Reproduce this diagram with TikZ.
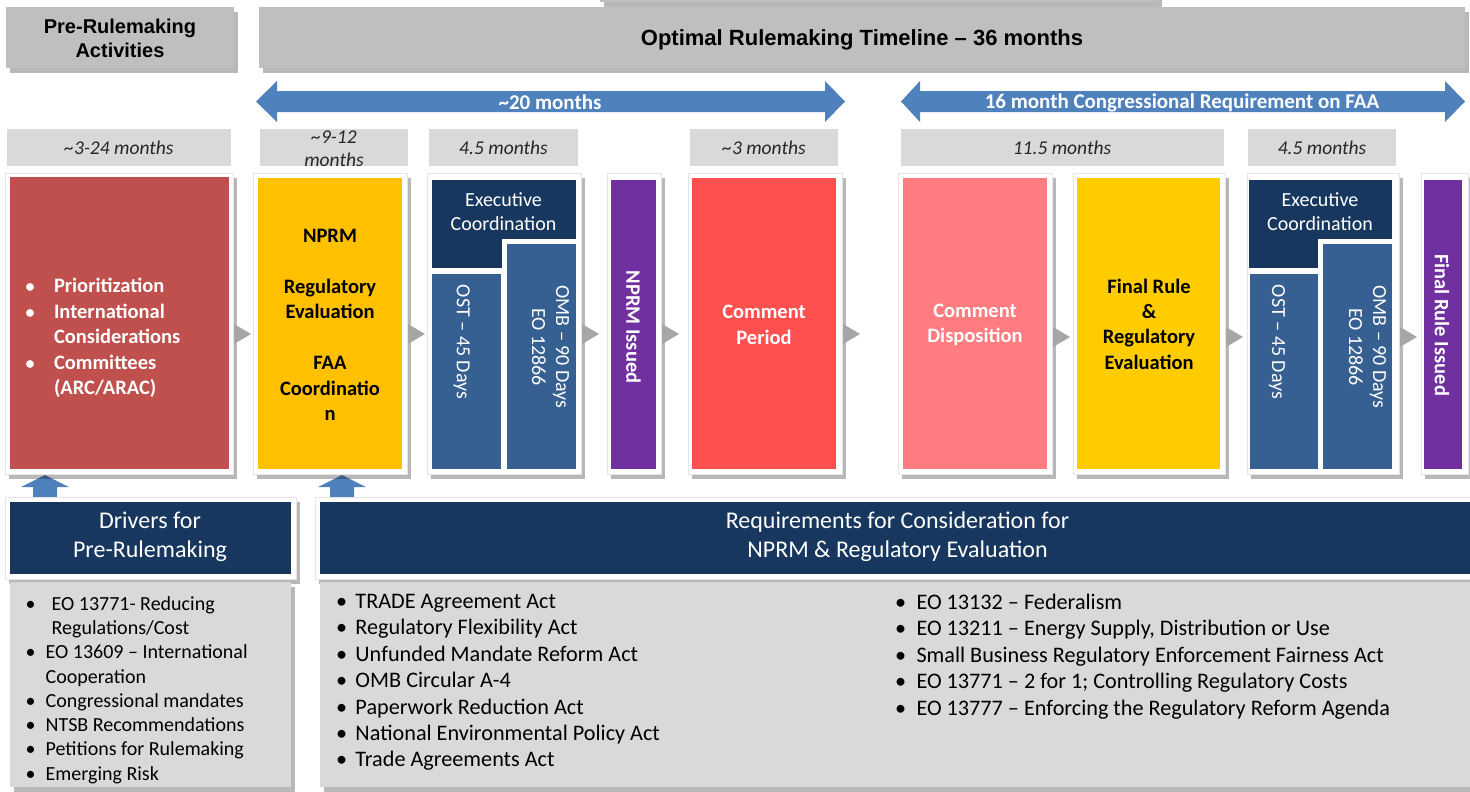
\documentclass[tikz,border=0pt]{standalone}
\usepackage{fontspec}
\setmainfont{Carlito}
\newfontfamily\arialf{Liberation Sans}
\usetikzlibrary{shadows,calc}
\definecolor{hdrgray}{HTML}{BFBFBF}
\definecolor{lgray}{HTML}{D9D9D9}
\definecolor{trigray}{HTML}{A6A6A6}
\definecolor{redbox}{HTML}{C0504D}
\definecolor{yel1}{HTML}{FFC000}
\definecolor{yel2}{HTML}{FFCC00}
\definecolor{navy}{HTML}{17375E}
\definecolor{midblue}{HTML}{376092}
\definecolor{purp}{HTML}{7030A0}
\definecolor{cper}{HTML}{FF5050}
\definecolor{cdis}{HTML}{FF7C80}
\definecolor{arrblue}{HTML}{4F81BD}
\tikzset{
  myshadow/.style={drop shadow={shadow xshift=4pt, shadow yshift=-5pt, opacity=0.28, fill=black}},
  hdrbox/.style={fill=hdrgray, myshadow},
  monbox/.style={fill=lgray},
  framebox/.style={fill=white, draw=black!10, line width=0.6pt, myshadow},
  listbox/.style={fill=lgray, myshadow},
  trif/.style={fill=trigray},
  hdrtext/.style={font=\arialf\fontsize{20}{24}\selectfont\bfseries, align=center, text=black},
  titletext/.style={font=\arialf\fontsize{22}{26}\selectfont\bfseries, align=center, text=black},
  montext/.style={font=\fontsize{19.5}{23.5}\selectfont\itshape, align=center, text=black!85},
  arrtext/.style={font=\fontsize{21}{24}\selectfont\bfseries, text=white},
  bw/.style={font=\fontsize{20.5}{25.4}\selectfont\bfseries, align=center, text=white},
  bk/.style={font=\fontsize{20.5}{25.4}\selectfont\bfseries, align=center, text=black},
  rw/.style={font=\fontsize{20}{24}\selectfont, align=center, text=white},
  headw/.style={font=\fontsize{24}{29}\selectfont, align=center, text=white},
  listL/.style={font=\fontsize{20}{24.3}\selectfont, align=left, text=black},
  listR/.style={font=\fontsize{22.2}{26.4}\selectfont, align=left, text=black},
}
\newcommand\rbox[6]{\node[#6, anchor=north west, minimum width={#4-#2}, minimum height={#5-#3}] (#1) at (#2,#3) {};}
\newcommand\conn[2]{\fill[trif] ($(#1.east |- 0,#2)+(1,0)$) ++(0,-10) -- ++(17,10) -- ++(-17,10) -- cycle;}
\begin{document}
\begin{tikzpicture}[x=1pt,y=-1pt, every node/.style={inner sep=0pt, outer sep=0pt}]
\useasboundingbox (0,0) rectangle (1470,792);
\fill[white] (0,0) rectangle (1470,792);

% top headers
\rbox{hTop}{600}{-30}{1158}{2}{hdrbox}
\rbox{hPre}{6}{7}{234}{68}{hdrbox}
\rbox{hOpt}{259}{7}{1465}{68}{hdrbox}
\node[hdrtext] (tPre) at (120,38) {Pre-Rulemaking\\Activities};
\node[titletext] (tOpt) at (862,40) {Optimal Rulemaking Timeline – 36 months};

% blue double arrows
\fill[arrblue] (256,101.5) -- (277,81) -- (277,91) -- (825,91) -- (825,81) -- (845,101.5) -- (825,122) -- (825,112) -- (277,112) -- (277,122) -- cycle;
\fill[arrblue] (901,101.5) -- (920,81) -- (920,91) -- (1445,91) -- (1445,81) -- (1465,101.5) -- (1445,122) -- (1445,112) -- (920,112) -- (920,122) -- cycle;
\node[arrtext] (a1) at (550,102.5) {\textasciitilde 20 months};
\node[arrtext] (a2) at (1182,102.5) {16 month Congressional Requirement on FAA};

% month labels
\rbox{m1}{7}{129}{231}{166}{monbox}
\rbox{m2}{260}{129}{408}{166}{monbox}
\rbox{m3}{429}{129}{578}{166}{monbox}
\rbox{m4}{690}{129}{838}{166}{monbox}
\rbox{m5}{901}{129}{1224}{166}{monbox}
\rbox{m6}{1248}{129}{1396}{166}{monbox}
\node[montext] (mt1) at (119,148) {\textasciitilde 3-24 months};
\node[montext] (mt2) at (334,148.5) {\textasciitilde 9-12\\months};
\node[montext] (mt3) at (503.5,148) {4.5 months};
\node[montext] (mt4) at (764,148) {\textasciitilde 3 months};
\node[montext] (mt5) at (1062,148) {11.5 months};
\node[montext] (mt6) at (1322,148) {4.5 months};

% up arrows
\fill[arrblue] (45,475) -- (69,487) -- (57,487) -- (57,498) -- (33,498) -- (33,487) -- (21,487) -- cycle;
\fill[arrblue] (342,475) -- (366,487) -- (354,487) -- (354,498) -- (330,498) -- (330,487) -- (318,487) -- cycle;

% frames
\rbox{fA}{5}{173}{233}{474}{framebox}
\rbox{fB}{253}{173}{407}{474}{framebox}
\rbox{fC}{427}{173}{581}{474}{framebox}
\rbox{fD}{607}{173}{661}{474}{framebox}
\rbox{fE}{688}{173}{842}{474}{framebox}
\rbox{fF}{898}{173}{1052}{474}{framebox}
\rbox{fG}{1073}{173}{1225}{474}{framebox}
\rbox{fH}{1247}{173}{1399}{474}{framebox}
\rbox{fI}{1421}{173}{1468}{474}{framebox}

% inner boxes
\rbox{bA}{10}{177}{229}{469}{fill=redbox}
\rbox{bB}{258}{178}{402}{469}{fill=yel1}
\rbox{cNav}{432}{180}{576}{268}{fill=navy}
\rbox{cOst}{432}{274}{501}{469}{fill=midblue}
\rbox{cWh}{502}{239}{576}{469}{fill=white}
\rbox{cOmb}{507}{244}{576}{469}{fill=midblue}
\rbox{bD}{611}{180}{656}{469}{fill=purp}
\rbox{bE}{692}{178}{836}{469}{fill=cper}
\rbox{bF}{903}{178}{1047}{469}{fill=cdis}
\rbox{bG}{1077}{178}{1220}{469}{fill=yel2}
\rbox{hNav}{1249}{180}{1392}{268}{fill=navy}
\rbox{hOst}{1250}{274}{1318}{469}{fill=midblue}
\rbox{hWh}{1318}{239}{1392}{469}{fill=white}
\rbox{hOmb}{1323}{244}{1392}{469}{fill=midblue}
\rbox{bI}{1424}{180}{1462}{469}{fill=purp}

% connectors
\conn{fA}{334}
\conn{fB}{334}
\conn{fC}{334}
\conn{fD}{334}
\conn{fE}{334}
\conn{fF}{337}
\conn{fG}{337}
\conn{fH}{337}

% box texts
\node[bw, align=left, anchor=west] (tA) at (25.5,338) {\makebox[28.5pt][l]{\fontsize{18}{20}\selectfont•}Prioritization\\\makebox[28.5pt][l]{\fontsize{18}{20}\selectfont•}International\\\hspace*{28.5pt}Considerations\\\makebox[28.5pt][l]{\fontsize{18}{20}\selectfont•}Committees\\\hspace*{28.5pt}(ARC/ARAC)};
\node[bk] (tB) at (330,325) {NPRM\\[25.4pt]Regulatory\\Evaluation\\[25.4pt]FAA\\Coordinatio\\n};
\node[rw] (tC) at (503.5,212) {Executive\\Coordination};
\node[rw, rotate=-90] (tCo) at (461.7,342) {OST – 45 Days};
\node[rw, rotate=-90] (tCm) at (550.5,347) {OMB – 90 Days\\EO 12866};
\node[bw, rotate=-90] (tD) at (633.5,327) {NPRM Issued};
\node[bw] (tE) at (764,325) {Comment\\Period};
\node[bw] (tF) at (975,325) {Comment\\Disposition};
\node[bk] (tG) at (1149,324) {Final Rule\\\&\\Regulatory\\Evaluation};
\node[rw] (tH) at (1320,212) {Executive\\Coordination};
\node[rw, rotate=-90] (tHo) at (1277,342) {OST – 45 Days};
\node[rw, rotate=-90] (tHm) at (1367.5,347) {OMB – 90 Days\\EO 12866};
\node[bw, rotate=-90] (tI) at (1442,325) {Final Rule Issued};

% bottom section
\rbox{fDrv}{5}{497}{296}{579}{framebox}
\rbox{fReq}{315}{497}{1475}{579}{framebox}
\rbox{drv}{10}{502}{291}{574}{fill=navy}
\rbox{req}{320}{502}{1470}{574}{fill=navy}
\rbox{lDrv}{10}{582}{291}{787}{listbox}
\rbox{lReq}{320}{582}{1470}{787}{listbox}
\node[headw] (tDrv) at (150,537) {Drivers for\\Pre-Rulemaking};
\node[headw] (tReq) at (897.5,537) {Requirements for Consideration for\\NPRM \& Regulatory Evaluation};

\node[listL, anchor=west] (lt1) at (25.7,690) {\makebox[20pt][l]{•}\hspace*{6pt}EO 13771- Reducing\\\hspace*{26pt}Regulations/Cost\\\makebox[20pt][l]{•}EO 13609 – International\\\hspace*{20pt}Cooperation\\\makebox[20pt][l]{•}Congressional mandates\\\makebox[20pt][l]{•}NTSB Recommendations\\\makebox[20pt][l]{•}Petitions for Rulemaking\\\makebox[20pt][l]{•}Emerging Risk};

\node[listR, anchor=west] (lt2) at (336,682.5) {\makebox[19.5pt][l]{•}TRADE Agreement Act\\\makebox[19.5pt][l]{•}Regulatory Flexibility Act\\\makebox[19.5pt][l]{•}Unfunded Mandate Reform Act\\\makebox[19.5pt][l]{•}OMB Circular A-4\\\makebox[19.5pt][l]{•}Paperwork Reduction Act\\\makebox[19.5pt][l]{•}National Environmental Policy Act\\\makebox[19.5pt][l]{•}Trade Agreements Act};

\node[listR, anchor=west] (lt3) at (895,656.5) {\makebox[21.5pt][l]{•}EO 13132 – Federalism\\\makebox[21.5pt][l]{•}EO 13211 – Energy Supply, Distribution or Use\\\makebox[21.5pt][l]{•}Small Business Regulatory Enforcement Fairness Act\\\makebox[21.5pt][l]{•}EO 13771 – 2 for 1; Controlling Regulatory Costs\\\makebox[21.5pt][l]{•}EO 13777 – Enforcing the Regulatory Reform Agenda};
\end{tikzpicture}
\end{document}
